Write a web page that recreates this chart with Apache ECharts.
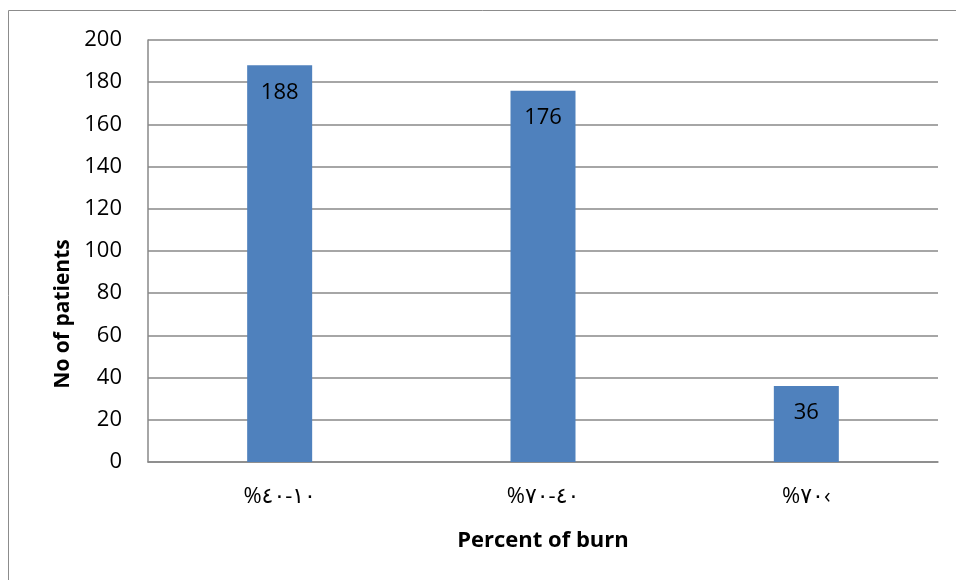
<!DOCTYPE html>
<html><head><meta charset="utf-8">
<script src="https://cdn.jsdelivr.net/npm/echarts@6/dist/echarts.min.js"></script>
<style>html,body{margin:0;padding:0;background:#fff}#c{width:956px;height:580px}</style>
</head><body><div id="c"></div>
<script>
var categories = ['\u202D%\u0664\u0660-\u0661\u0660\u202C', '\u202D%\u0667\u0660-\u0664\u0660\u202C', '\u202D%\u0667\u0660\u2039\u202C'];
var values = [188, 176, 36];
var yTicks = {min: 0, max: 200, interval: 20};
var xTitle = 'Percent of burn';
var yTitle = 'No of patients';

var chart = echarts.init(document.getElementById('c'), null, {renderer: 'canvas'});
var font = '"Open Sans", "DejaVu Sans", sans-serif';
chart.setOption({
  animation: false,
  graphic: [
    {type: 'polyline', shape: {points: [[8.5, 580], [8.5, 10.5], [956, 10.5]]}, style: {fill: 'none', stroke: '#8c8c8c', lineWidth: 1}},
    {type: 'text', x: 63, y: 314, rotation: Math.PI / 2,
     style: {text: yTitle, font: 'bold 21px ' + font, fill: '#000', align: 'center', verticalAlign: 'middle'}}
  ],
  grid: {left: 148, right: 18, top: 40, bottom: 118},
  xAxis: {
    type: 'category', data: categories,
    name: xTitle, nameLocation: 'middle', nameGap: 68,
    nameTextStyle: {fontFamily: font, fontSize: 22, fontWeight: 'bold', color: '#000'},
    axisLine: {lineStyle: {color: '#888', width: 1.5}},
    axisTick: {show: false},
    axisLabel: {fontFamily: font, fontSize: 22, color: '#000', margin: 24}
  },
  yAxis: {
    type: 'value', min: yTicks.min, max: yTicks.max, interval: yTicks.interval,
    axisLine: {show: true, lineStyle: {color: '#888', width: 1.5}},
    axisTick: {show: false},
    axisLabel: {fontFamily: font, fontSize: 22, color: '#000', margin: 26},
    splitLine: {lineStyle: {color: '#888', width: 1.5}}
  },
  series: [{
    type: 'bar', data: values, barWidth: 65,
    itemStyle: {color: '#4F81BD'},
    label: {show: true, position: 'insideTop', distance: 16, fontFamily: font, fontSize: 22, color: '#000'}
  }]
});
</script></body></html>
